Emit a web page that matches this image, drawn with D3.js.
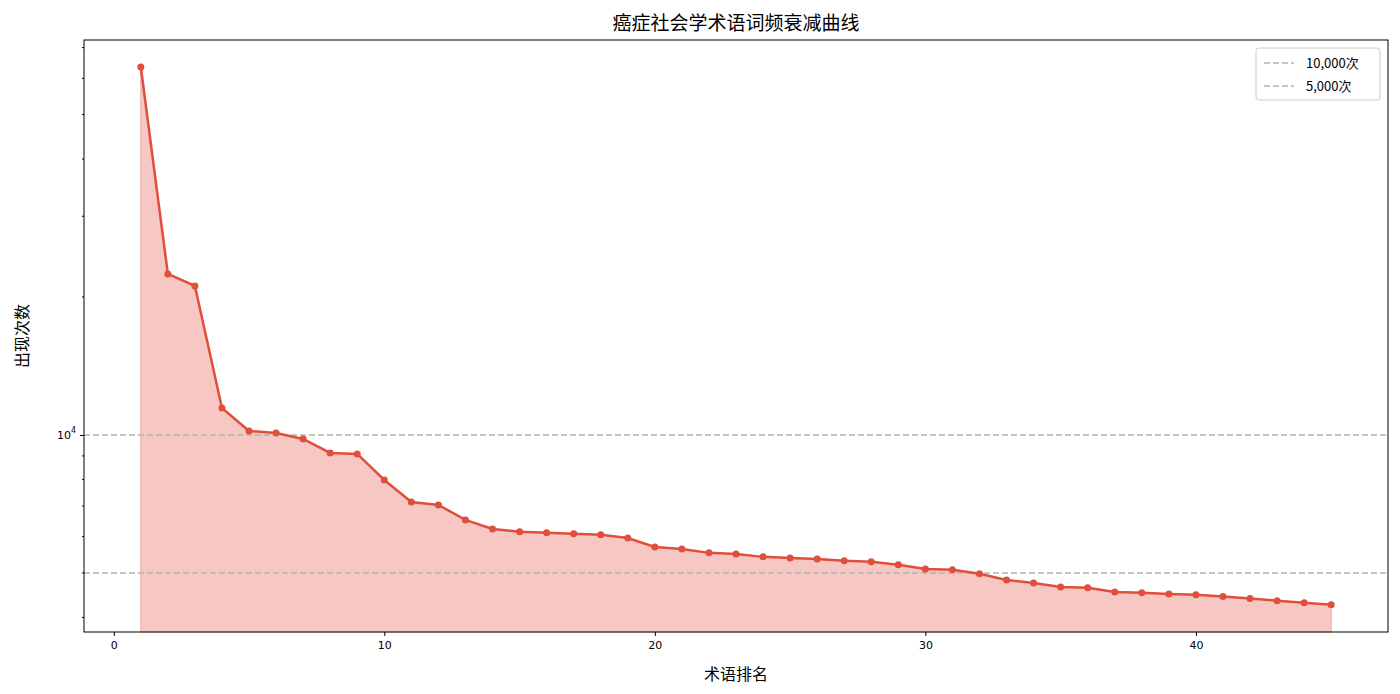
<!DOCTYPE html>
<html><head><meta charset="utf-8">
<script src="https://cdn.jsdelivr.net/npm/d3@7"></script>
<style>body{margin:0;background:#fff}</style>
</head><body>
<svg id="chart" width="1400" height="694"></svg>
<script>
const ranks = d3.range(1, 46);
const counts = [63500, 22450, 21140, 11450, 10200, 10100, 9800, 9134, 9090, 7977,
  7140, 7035, 6525, 6235, 6150, 6120, 6090, 6060, 5960, 5695,
  5640, 5530, 5500, 5420, 5390, 5365, 5315, 5290, 5210, 5100,
  5080, 4980, 4827, 4755, 4660, 4640, 4545, 4525, 4500, 4480,
  4440, 4395, 4350, 4305, 4260];
const refLines = [{ value: 10000, label: "10,000次" }, { value: 5000, label: "5,000次" }];
const xTicks = [0, 10, 20, 30, 40];

const font = "'Noto Sans CJK SC', 'DejaVu Sans', sans-serif";
const margin = { top: 40, right: 12, bottom: 62, left: 84 };
const width = 1400, height = 694;
const svg = d3.select("#chart").style("font-family", font);

const x = d3.scaleLinear().domain([-1.1, 47.1]).range([margin.left, width - margin.right]);
const y = d3.scaleLog().domain([3716, 72730]).range([height - margin.bottom, margin.top]);
const data = ranks.map((r, i) => ({ r, v: counts[i] }));

svg.append("path").datum(data)
  .attr("fill", "#f7c8c3")
  .attr("stroke", "#eaa9a2").attr("stroke-width", 1)
  .attr("d", d3.area().x(d => x(d.r)).y0(y.range()[0]).y1(d => y(d.v)));

svg.append("g").selectAll("line").data(refLines).join("line")
  .attr("x1", margin.left).attr("x2", width - margin.right)
  .attr("y1", d => y(d.value)).attr("y2", d => y(d.value))
  .attr("stroke", "#b3b3b3").attr("stroke-width", 1.5).attr("stroke-dasharray", "6,3");

svg.append("path").datum(data)
  .attr("fill", "none").attr("stroke", "#e04e3c").attr("stroke-width", 2.5)
  .attr("d", d3.line().x(d => x(d.r)).y(d => y(d.v)));
svg.append("g").selectAll("circle").data(data).join("circle")
  .attr("cx", d => x(d.r)).attr("cy", d => y(d.v)).attr("r", 3.5).attr("fill", "#e04e3c");

// axes
const xa = svg.append("g").attr("transform", `translate(0,${height - margin.bottom})`)
  .call(d3.axisBottom(x).tickValues(xTicks).tickSize(4).tickPadding(5));
xa.select(".domain").remove();
xa.selectAll("text").attr("font-size", 11).attr("font-family", "'DejaVu Sans', sans-serif");

const minor = [4000, 5000, 6000, 7000, 8000, 9000, 20000, 30000, 40000, 50000, 60000, 70000];
const ya = svg.append("g").attr("transform", `translate(${margin.left},0)`);
ya.call(d3.axisLeft(y).tickValues([10000]).tickSize(4).tickPadding(4).tickFormat(() => ""));
ya.select(".domain").remove();
ya.append("text").attr("x", -8).attr("y", y(10000) + 4).attr("text-anchor", "end")
  .attr("fill", "#000").attr("font-size", 11).attr("font-family", "'DejaVu Sans', sans-serif")
  .text("10").append("tspan").attr("dy", -6).attr("font-size", 8).text("4");
ya.selectAll(".minor").data(minor).join("line").attr("class", "minor")
  .attr("x1", -2).attr("x2", 0).attr("y1", d => y(d)).attr("y2", d => y(d)).attr("stroke", "#000");

svg.append("rect").attr("x", margin.left).attr("y", margin.top)
  .attr("width", width - margin.left - margin.right).attr("height", height - margin.top - margin.bottom)
  .attr("fill", "none").attr("stroke", "#000").attr("stroke-width", 1);

svg.append("text").attr("x", (margin.left + width - margin.right) / 2).attr("y", 30)
  .attr("text-anchor", "middle").attr("font-size", 19).text("癌症社会学术语词频衰减曲线");
svg.append("text").attr("x", (margin.left + width - margin.right) / 2).attr("y", 680)
  .attr("text-anchor", "middle").attr("font-size", 16).text("术语排名");
svg.append("text").attr("transform", `translate(28,${(margin.top + height - margin.bottom) / 2}) rotate(-90)`)
  .attr("text-anchor", "middle").attr("font-size", 16).text("出现次数");

// legend
const lg = svg.append("g").attr("transform", "translate(1256,48)");
lg.append("rect").attr("width", 124).attr("height", 52).attr("rx", 3)
  .attr("fill", "#fff").attr("stroke", "#ccc");
lg.selectAll("g").data(refLines).join("g").attr("transform", (d, i) => `translate(8,${15 + i * 23})`)
  .each(function (d) {
    const g = d3.select(this);
    g.append("line").attr("x1", 0).attr("x2", 30).attr("stroke", "#b3b3b3")
      .attr("stroke-width", 1.5).attr("stroke-dasharray", "6,3");
    g.append("text").attr("x", 42).attr("y", 5).attr("font-size", 13).text(d.label);
  });
</script>
</body></html>
